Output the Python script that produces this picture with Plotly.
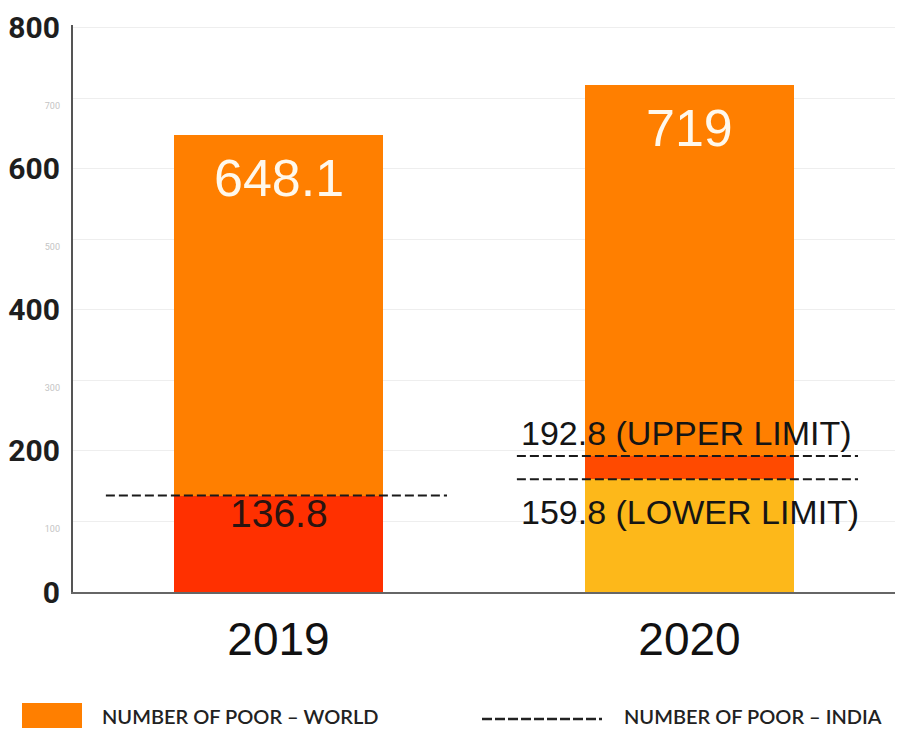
import plotly.graph_objects as go

# ---- data ----
years = ["2019", "2020"]
world_poor = [648.1, 719]          # number of poor - world (millions)
india_lower = [136.8, 159.8]       # number of poor - India (lower limit / single value)
india_upper = [136.8, 192.8]       # number of poor - India (upper limit)
y_ticks = [0, 100, 200, 300, 400, 500, 600, 700, 800]
major_ticks = [0, 200, 400, 600, 800]

ORANGE = "#FF7F00"
RED19 = "#FF3000"
RED20 = "#FF4A00"
YELLOW = "#FDB81A"
NARROW = "Liberation Sans, Arial, sans-serif"

# page body has an 8px margin: figure is 888x720 so it fits the 904x736 window
OFF = 8
FW, FH = 904 - 2 * OFF, 736 - 2 * OFF
# screen-pixel layout of the plot area
PL, PR, PT, PB = 73, 895, 25, 592
L, R, T, B = PL - OFF, FW - (PR - OFF), PT - OFF, FH - (PB - OFF)
W, H = PR - PL, PB - PT
px = lambda p: (p - PL) / W
py = lambda p: (PB - p) / H

fig = go.Figure()
fig.add_trace(go.Bar(x=years, y=india_lower, marker=dict(color=[RED19, YELLOW], line_width=0),
                     width=0.51, showlegend=False, hoverinfo="skip"))
fig.add_trace(go.Bar(x=years, y=[u - l for u, l in zip(india_upper, india_lower)],
                     marker=dict(color=[RED20, RED20], line_width=0),
                     width=0.51, showlegend=False, hoverinfo="skip"))
fig.add_trace(go.Bar(x=years, y=[w - u for w, u in zip(world_poor, india_upper)],
                     marker=dict(color=ORANGE, line_width=0),
                     width=0.51, showlegend=False, hoverinfo="skip"))

# dashed India lines
lines = []
for i, yr in enumerate(years):
    vals = sorted(set([india_lower[i], india_upper[i]]))
    for v in vals:
        lines.append(dict(type="line", xref="x", yref="y", x0=i - 0.42, x1=i + 0.41, y0=v, y1=v,
                          line=dict(color="#1a1a1a", width=2, dash="9px,4px"), layer="above"))

annotations = []
# world labels
for i, yr in enumerate(years):
    annotations.append(dict(x=i, y=world_poor[i], xref="x", yref="y", text=f"{world_poor[i]:g}",
                            showarrow=False, yanchor="middle", yshift=-43,
                            font=dict(family=NARROW, size=52, color="#FFF8EC")))
# India labels
annotations.append(dict(x=0, y=india_lower[0], xref="x", yref="y", text=f"{india_lower[0]:g}",
                        showarrow=False, yanchor="middle", yshift=-18,
                        font=dict(family=NARROW, size=39, color="#2a1410")))
annotations.append(dict(x=1 - 0.415, y=india_upper[1], xref="x", yref="y",
                        text=f"{india_upper[1]:g} (UPPER LIMIT)", showarrow=False,
                        xanchor="left", yanchor="middle", yshift=23,
                        font=dict(family=NARROW, size=34, color="#151515")))
annotations.append(dict(x=1 - 0.415, y=india_lower[1], xref="x", yref="y",
                        text=f"{india_lower[1]:g} (LOWER LIMIT)", showarrow=False,
                        xanchor="left", yanchor="middle", yshift=-33,
                        font=dict(family=NARROW, size=34, color="#151515")))

# legend
shapes = lines + [
    dict(type="rect", xref="paper", yref="paper", x0=px(22), x1=px(82), y0=py(703), y1=py(745),
         fillcolor=ORANGE, line_width=0),
    dict(type="line", xref="paper", yref="paper", x0=px(482), x1=px(602), y0=py(719), y1=py(719),
         line=dict(color="#222222", width=2.5, dash="10px,3px")),
]
LEG_FONT = dict(family="Lato, Open Sans, sans-serif", size=20, color="#222222", weight=600)
annotations.append(dict(x=px(100), y=py(716), xref="paper", yref="paper", text="NUMBER OF POOR – WORLD",
                        showarrow=False, xanchor="left", yanchor="middle", font=LEG_FONT))
annotations.append(dict(x=px(622), y=py(716), xref="paper", yref="paper", text="NUMBER OF POOR – INDIA",
                        showarrow=False, xanchor="left", yanchor="middle", font=LEG_FONT))

tick_text = [str(t) if t in major_ticks else
             f'<span style="font-size:9px;color:#c4c4c4;font-weight:normal">{t}</span>'
             for t in y_ticks]

fig.update_layout(
    barmode="stack",
    width=FW, height=FH,
    margin=dict(l=L, r=R, t=T, b=B, pad=0),
    paper_bgcolor="white", plot_bgcolor="white",
    showlegend=False,
    shapes=shapes,
    annotations=annotations,
    xaxis=dict(type="category", categoryorder="array", categoryarray=years, range=[-0.5, 1.5],
               showline=True, linecolor="#666666", linewidth=2, showgrid=False, ticks="",
               tickfont=dict(family=NARROW, size=46, color="#111111"), ticklabelstandoff=6,
               fixedrange=True),
    yaxis=dict(range=[0, 804], tickvals=y_ticks, ticktext=tick_text, showline=True,
               linecolor="#555555", linewidth=2, showgrid=True, gridcolor="#eeeeee", gridwidth=1,
               zeroline=False, ticks="", ticklabelstandoff=5, ticklabeloverflow="allow",
               tickfont=dict(family="Roboto, DejaVu Sans, sans-serif", size=30, color="#1e1e1e",
                             weight="bold"),
               fixedrange=True),
)

fig.write_html("out.html")
